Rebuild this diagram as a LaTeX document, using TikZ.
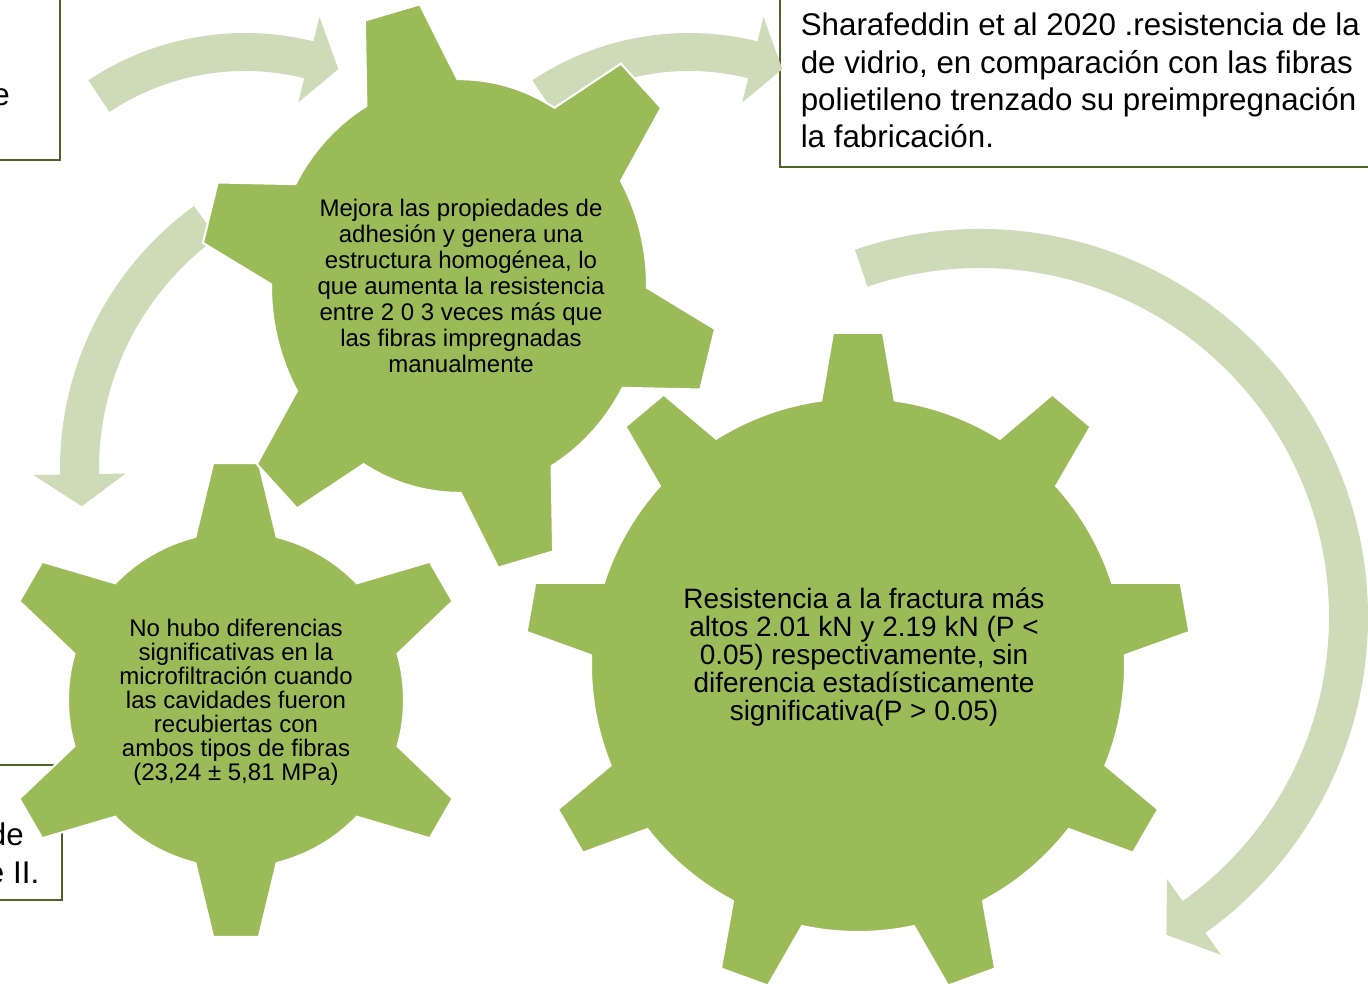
\documentclass[tikz,border=0pt]{standalone}
\usepackage{fontspec}
\setmainfont{Liberation Sans}
\definecolor{gearg}{RGB}{155,187,89}
\definecolor{arrowg}{RGB}{205,219,184}
\definecolor{boxline}{RGB}{79,98,40}
\tikzset{
  gearshape/.style={fill=gearg, draw=white, line width=1.5pt, line join=miter},
  arcarrowshape/.style={fill=arrowg},
  boxborder/.style={draw=boxline, line width=1.2pt},
  boxtext/.style={font=\fontsize{23.5}{27.9}\selectfont, inner sep=0pt, align=left},
  geartextA/.style={font=\fontsize{18}{19.5}\selectfont, inner sep=0pt, align=center},
  geartextB/.style={font=\fontsize{18}{18}\selectfont, inner sep=0pt, align=center},
  geartextC/.style={font=\fontsize{21}{21}\selectfont, inner sep=0pt, align=center}
}
% gear: n teeth, first tooth angle, body radius, tip radius, base half-angle, tip half-angle
\newcommand\mygear[6]{%
  \pgfmathsetmacro\gstep{360/#1}%
  \pgfmathtruncatemacro\glast{#1-1}%
  \path[gearshape] ({#2-#5}:#3)
    \foreach \k [evaluate=\k as \ga using #2+\k*\gstep] in {0,...,\glast}{
      -- ({\ga-#6}:#4) -- ({\ga+#6}:#4) -- ({\ga+#5}:#3)
      arc[start angle={\ga+#5}, end angle={\ga+\gstep-#5}, radius=#3]
    } -- cycle;
}
% arc arrow: inner r, outer r, mid r, start angle, head base angle, tip angle, barb inner r, barb outer r
\newcommand\arcarrow[8]{%
  \path[arcarrowshape] (#4:#2) arc[start angle=#4, end angle=#5, radius=#2]
    -- (#5:#8) -- (#6:#3) -- (#5:#7) -- (#5:#1)
    arc[start angle=#5, end angle=#4, radius=#1] -- cycle;
}
\begin{document}
\begin{tikzpicture}[x=0.75pt, y=0.75pt]
\useasboundingbox (0,0) rectangle (1368,984);
\fill[white] (0,0) rectangle (1368,984);

% ---- text boxes (partly outside the picture) ----
\draw[boxborder] (0,824) -- (60,824) -- (60,984);
\node[boxtext, anchor=base east] (tl) at (10,878) {e};

\draw[boxborder] (780,984) -- (780,817) -- (1368,817);
\node[boxtext, anchor=north west] (tr) at (800.5,971)
  {Sharafeddin et al 2020 .resistencia de la\\de vidrio, en comparación con las fibras\\polietileno trenzado su preimpregnación\\la fabricación.};

\draw[boxborder] (0,219) -- (62,219) -- (62,84) -- (0,84);
\node[boxtext, anchor=base east] (bl1) at (24,138) {de};
\node[boxtext, anchor=base east] (bl2) at (39.5,100) {e II.};

% ---- arrows ----
\begin{scope}[shift={(245,668)}]
  \arcarrow{245}{283}{264}{123.6}{76}{69.3}{220}{308}
\end{scope}
\begin{scope}[shift={(689,668)}]
  \arcarrow{245}{283}{264}{123.6}{76}{69.3}{220}{308}
\end{scope}
\begin{scope}[shift={(385,515)}]
  \arcarrow{286}{325}{305.5}{126}{181}{187}{259.5}{351.5}
\end{scope}
\begin{scope}[shift={(980,367)}]
  \arcarrow{349}{388}{368.5}{108.8}{-54.5}{-59.6}{322}{415}
\end{scope}

% ---- gears ----
\begin{scope}[shift={(236,284)}]
  \mygear{6}{30}{168}{238}{14}{5.5}
\end{scope}
\begin{scope}[shift={(858,319)}]
  \mygear{9}{10}{267}{333}{7.9}{4.3}
\end{scope}
\begin{scope}[shift={(459,698)}, yscale=1.1]
  \mygear{6}{45}{188}{259}{14.5}{6.3}
\end{scope}

% ---- gear texts ----
\node[geartextA] (g1) at (461,698.5)
  {Mejora las propiedades de\\adhesión y genera una\\estructura homogénea, lo\\que aumenta la resistencia\\entre 2 0 3 veces más que\\las fibras impregnadas\\manualmente};
\node[geartextB] (g2) at (236,281.5)
  {No hubo diferencias\\significativas en la\\microfiltración cuando\\las cavidades fueron\\recubiertas con\\ambos tipos de fibras\\(23,24 ± 5,81 MPa)};
\node[geartextC] (g3) at (864,327)
  {Resistencia a la fractura más\\altos 2.01 kN y 2.19 kN (P <\\0.05) respectivamente, sin\\diferencia estadísticamente\\significativa(P > 0.05)};
\end{tikzpicture}
\end{document}
